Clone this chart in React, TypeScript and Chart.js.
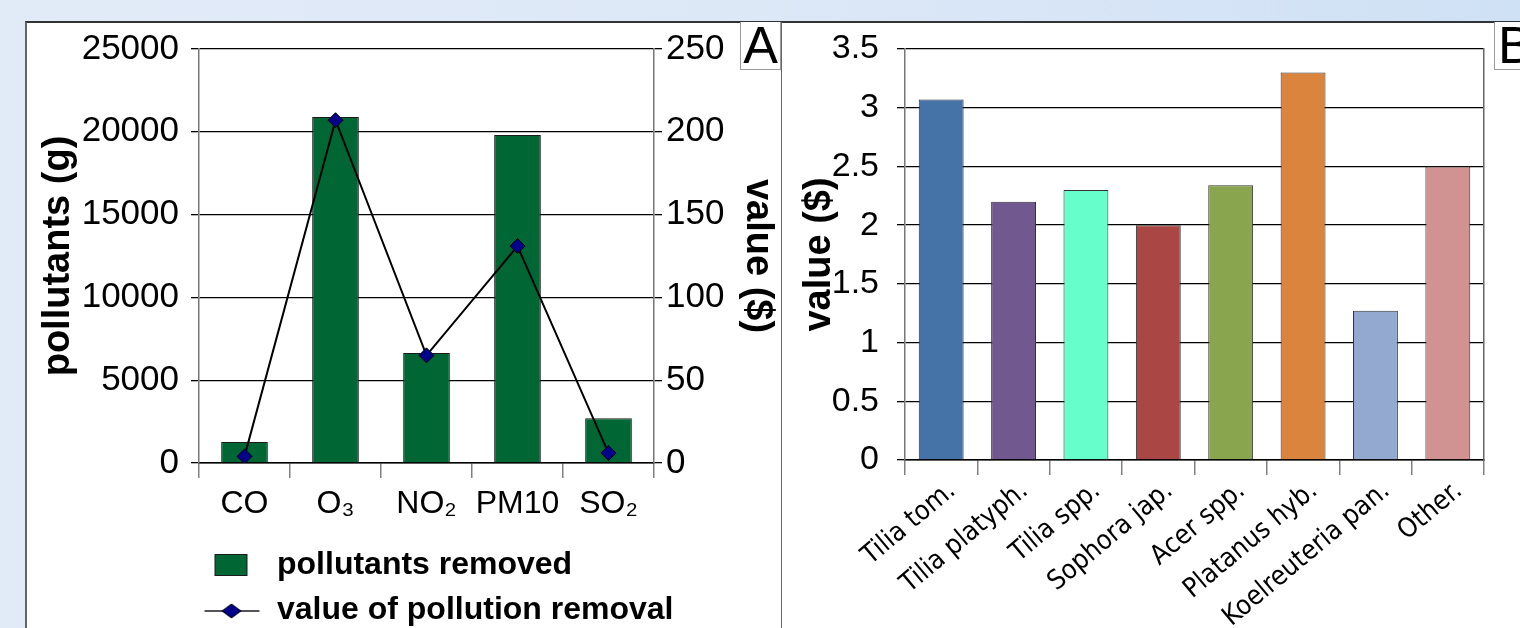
import React, { useEffect, useRef } from 'react';
import { Chart, registerables } from 'chart.js';

Chart.register(...registerables);

// ---- Panel A data ----
const pollutants = ['CO', 'O₃', 'NO₂', 'PM10', 'SO₂'];
const pollutantsRemoved = [1270, 20900, 6650, 19800, 2700];
const removalValue = [4, 207, 65, 131, 6];
const seriesLabelsA = ['pollutants removed', 'value of pollution removal'];

// ---- Panel B data ----
const species = [
  'Tilia tom.',
  'Tilia platyph.',
  'Tilia spp.',
  'Sophora jap.',
  'Acer spp.',
  'Platanus hyb.',
  'Koelreuteria pan.',
  'Other.',
];
const speciesValue = [3.07, 2.2, 2.3, 2.0, 2.34, 3.3, 1.27, 2.5];
const speciesColors = [
  '#4572A7',
  '#71588F',
  '#66FFCC',
  '#AA4643',
  '#89A54E',
  '#DB843D',
  '#93A9CF',
  '#D19392',
];

const SANS = '"Liberation Sans", Arial, sans-serif';
const NARROW = '"DejaVu Sans Condensed", "Liberation Sans Narrow", "Arial Narrow", sans-serif';

function makeRectIcon(): HTMLCanvasElement {
  const c = document.createElement('canvas');
  c.width = 70;
  c.height = 28;
  const ctx = c.getContext('2d')!;
  ctx.fillStyle = '#006633';
  ctx.strokeStyle = '#1b1b1b';
  ctx.lineWidth = 1;
  ctx.fillRect(13, 3, 33, 22);
  ctx.strokeRect(13.5, 3.5, 32, 21);
  return c;
}

function makeLineIcon(): HTMLCanvasElement {
  const c = document.createElement('canvas');
  c.width = 70;
  c.height = 28;
  const ctx = c.getContext('2d')!;
  ctx.strokeStyle = '#555';
  ctx.lineWidth = 2;
  ctx.beginPath();
  ctx.moveTo(3, 15);
  ctx.lineTo(58, 15);
  ctx.stroke();
  const cx = 30;
  const cy = 15;
  ctx.beginPath();
  ctx.moveTo(cx, cy - 7);
  ctx.lineTo(cx + 9.5, cy);
  ctx.lineTo(cx, cy + 7);
  ctx.lineTo(cx - 9.5, cy);
  ctx.closePath();
  ctx.fillStyle = '#00008B';
  ctx.fill();
  ctx.strokeStyle = '#000';
  ctx.lineWidth = 1;
  ctx.stroke();
  return c;
}

const noVerticalLabelPadding = (s: any) => {
  s.paddingTop = 0;
  s.paddingBottom = 0;
};

export default function App() {
  const refA = useRef<HTMLCanvasElement | null>(null);
  const refB = useRef<HTMLCanvasElement | null>(null);

  useEffect(() => {
    const rectIcon = makeRectIcon();
    const lineIcon = makeLineIcon();

    const legendWiden = {
      id: 'legendWiden',
      afterLayout(chart: any) {
        const lg = chart.legend;
        if (lg) {
          lg.right = chart.width;
          lg.width = lg.right - lg.left;
        }
      },
    };

    const chartA = new Chart(refA.current!, {
      type: 'bar',
      data: {
        labels: pollutants,
        datasets: [
          {
            type: 'bar',
            label: seriesLabelsA[0],
            data: pollutantsRemoved,
            backgroundColor: '#006633',
            borderColor: '#1b1b1b',
            borderWidth: 1,
            yAxisID: 'y',
            order: 2,
            categoryPercentage: 1,
            barPercentage: 0.513,
          } as any,
          {
            type: 'line',
            label: seriesLabelsA[1],
            data: removalValue,
            borderColor: '#000',
            borderWidth: 2,
            pointStyle: 'rectRot',
            pointRadius: 7.5,
            pointBackgroundColor: '#00008B',
            pointBorderColor: '#000',
            pointBorderWidth: 1,
            yAxisID: 'y2',
            order: 1,
            tension: 0,
          } as any,
        ],
      },
      plugins: [legendWiden],
      options: {
        responsive: false,
        animation: false,
        devicePixelRatio: 1,
        layout: { padding: { top: 27, left: 0, right: 0, bottom: 0 } },
        plugins: {
          tooltip: { enabled: false },
          legend: {
            position: 'bottom',
            fullSize: false,
            align: 'start',
            labels: {
              usePointStyle: true,
              pointStyleWidth: 49,
              padding: 13,
              color: '#000',
              font: { family: SANS, size: 32, weight: 'bold' },
              sort: (a: any, b: any) => a.datasetIndex - b.datasetIndex,
              generateLabels: (chart: any) =>
                Chart.defaults.plugins.legend.labels
                  .generateLabels(chart)
                  .map((l: any) => ({ ...l, pointStyle: l.datasetIndex === 0 ? rectIcon : lineIcon })),
            },
          },
        },
        scales: {
          x: {
            grid: { drawOnChartArea: false, tickLength: 15, color: '#808080', lineWidth: 1.5 },
            border: { color: '#000', width: 1.5 },
            ticks: {
              color: '#000',
              font: { family: SANS, size: 32 },
              padding: 7,
              maxRotation: 0,
              autoSkip: false,
            },
            afterFit: (s: any) => {
              s.height = 73;
            },
          },
          y: {
            position: 'left',
            min: 0,
            max: 25000,
            ticks: {
              stepSize: 5000,
              color: '#000',
              font: { family: SANS, size: 35 },
              padding: 12,
              callback: (v: any) => String(v),
            },
            grid: { color: '#000', lineWidth: 1.3, tickLength: 8 },
            border: { color: '#777', width: 1.5 },
            title: {
              display: true,
              text: 'pollutants (g)',
              color: '#000',
              font: { family: SANS, size: 38, weight: 'bold' },
              padding: { top: 11, bottom: 0 },
            },
            afterFit: (s: any) => {
              s.width = 174;
              noVerticalLabelPadding(s);
            },
          },
          y2: {
            position: 'right',
            min: 0,
            max: 250,
            ticks: {
              stepSize: 50,
              color: '#000',
              font: { family: SANS, size: 35 },
              padding: 4,
              callback: (v: any) => String(v),
            },
            grid: { drawOnChartArea: false, color: '#000', lineWidth: 1.3, tickLength: 8 },
            border: { color: '#777', width: 1.5 },
            title: {
              display: true,
              text: 'value ($)',
              color: '#000',
              font: { family: SANS, size: 38, weight: 'bold' },
              padding: { top: 1, bottom: 0 },
            },
            afterFit: (s: any) => {
              s.width = 127;
              noVerticalLabelPadding(s);
            },
          },
        },
      } as any,
    });

    const chartB = new Chart(refB.current!, {
      type: 'bar',
      data: {
        labels: species,
        datasets: [
          {
            label: 'value ($)',
            data: speciesValue,
            backgroundColor: speciesColors,
            borderColor: '#333',
            borderWidth: 1,
            categoryPercentage: 1,
            barPercentage: 0.62,
          } as any,
        ],
      },
      options: {
        responsive: false,
        animation: false,
        devicePixelRatio: 1,
        layout: { padding: { top: 27, left: 0, right: 0, bottom: 0 } },
        plugins: {
          tooltip: { enabled: false },
          legend: { display: false },
        },
        scales: {
          x: {
            grid: { drawOnChartArea: false, tickLength: 15, color: '#808080', lineWidth: 1.5 },
            border: { color: '#000', width: 1.5 },
            ticks: {
              color: '#000',
              font: { family: NARROW, size: 27 },
              padding: 0,
              labelOffset: 11,
              minRotation: 40,
              maxRotation: 40,
              autoSkip: false,
            },
            afterFit: (s: any) => {
              s.height = 168;
              s.paddingLeft = 0;
              s.paddingRight = 0;
            },
          },
          y: {
            position: 'left',
            min: 0,
            max: 3.5,
            ticks: {
              stepSize: 0.5,
              color: '#000',
              font: { family: SANS, size: 34 },
              padding: 18,
              callback: (v: any) => String(v),
            },
            grid: { color: '#000', lineWidth: 1.3, tickLength: 8 },
            border: { color: '#777', width: 1.5 },
            title: {
              display: true,
              text: 'value ($)',
              color: '#000',
              font: { family: SANS, size: 38, weight: 'bold' },
              padding: { top: 16, bottom: 0 },
            },
            afterFit: (s: any) => {
              s.width = 124;
              noVerticalLabelPadding(s);
            },
          },
          y2: {
            position: 'right',
            display: true,
            ticks: { display: false },
            grid: { display: true, drawOnChartArea: false, drawTicks: false },
            border: { display: true, color: '#666', width: 1.5 },
            afterFit: (s: any) => {
              s.width = 36;
              noVerticalLabelPadding(s);
            },
          },
        },
      } as any,
    });

    return () => {
      chartA.destroy();
      chartB.destroy();
    };
  }, []);

  return (
    <div
      style={{
        position: 'fixed',
        left: 0,
        top: 0,
        width: 1520,
        height: 628,
        overflow: 'hidden',
        background: 'linear-gradient(90deg, #e1ebf8 0%, #dde8f7 50%, #cfe1f5 100%)',
        fontFamily: SANS,
      }}
    >
      <div
        style={{
          position: 'absolute',
          left: 25,
          top: 21,
          width: 757,
          height: 640,
          background: '#fff',
          borderTop: '2px solid #333',
          borderLeft: '2px solid #666',
          boxSizing: 'border-box',
        }}
      />
      <div
        style={{
          position: 'absolute',
          left: 781,
          top: 21,
          width: 760,
          height: 640,
          background: '#fff',
          borderTop: '2px solid #333',
          borderLeft: '1.5px solid #666',
          boxSizing: 'border-box',
        }}
      />
      <canvas
        ref={refA}
        width={756}
        height={614}
        style={{ position: 'absolute', left: 25, top: 22, width: 756, height: 614 }}
      />
      <canvas
        ref={refB}
        width={739}
        height={606}
        style={{ position: 'absolute', left: 781, top: 22, width: 739, height: 606 }}
      />
      <div
        style={{
          position: 'absolute',
          left: 740,
          top: 22,
          width: 41,
          height: 48,
          boxSizing: 'border-box',
          border: '1px solid #999',
          borderTop: 'none',
          background: '#fff',
          fontSize: 52,
          lineHeight: '46px',
          textAlign: 'center',
          color: '#000',
        }}
      >
        A
      </div>
      <div
        style={{
          position: 'absolute',
          left: 1494,
          top: 22,
          width: 40,
          height: 48,
          boxSizing: 'border-box',
          border: '1px solid #999',
          borderTop: 'none',
          background: '#fff',
          fontSize: 52,
          lineHeight: '46px',
          paddingLeft: 3,
          color: '#000',
        }}
      >
        B
      </div>
    </div>
  );
}
